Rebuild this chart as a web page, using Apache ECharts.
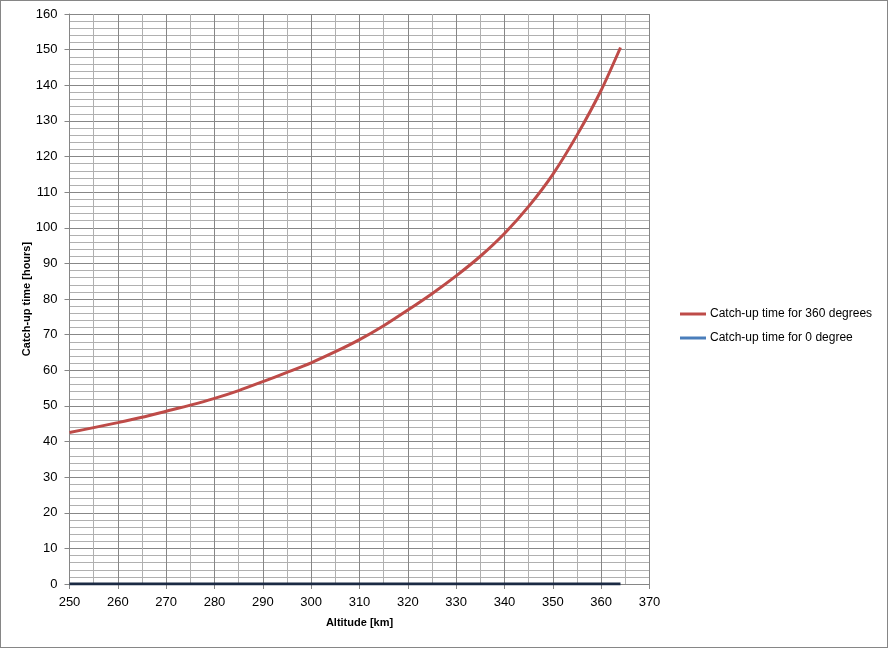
<!DOCTYPE html>
<html>
<head>
<meta charset="utf-8">
<script src="https://cdn.jsdelivr.net/npm/echarts@6/dist/echarts.min.js"></script>
<style>
html,body{margin:0;padding:0;background:#fff;}
#wrap{width:888px;height:648px;box-sizing:border-box;border:1px solid #868686;position:relative;}
#chart{position:absolute;left:-1px;top:-1px;width:888px;height:648px;}
</style>
</head>
<body>
<div id="wrap"><div id="chart"></div></div>
<script>
// Data
const altitudes = [250, 255, 260, 265, 270, 275, 280, 285, 290, 295, 300, 305, 310, 315, 320, 325, 330, 335, 340, 345, 350, 355, 360, 364];
const catchUp360 = [42.5, 43.9, 45.3, 46.8, 48.5, 50.2, 52.1, 54.3, 56.8, 59.4, 62.1, 65.2, 68.6, 72.5, 76.9, 81.5, 86.5, 92.0, 98.4, 106.0, 115.0, 126.0, 138.6, 150.6];
const catchUp0 = [0, 0, 0, 0, 0, 0, 0, 0, 0, 0, 0, 0, 0, 0, 0, 0, 0, 0, 0, 0, 0, 0, 0, 0];
const seriesNames = ['Catch-up time for 360 degrees', 'Catch-up time for 0 degree'];
const xTitle = 'Altitude [km]';
const yTitle = 'Catch-up time [hours]';

const FONT = 'Liberation Sans';
const chart = echarts.init(document.getElementById('chart'), null, {renderer: 'canvas'});
const pairs = (xs, ys) => xs.map((x, i) => [x, ys[i]]);

chart.setOption({
  animation: false,
  backgroundColor: 'transparent',
  textStyle: {fontFamily: FONT},
  grid: {left: 69.5, top: 14, right: 238.5, bottom: 64, containLabel: false},
  legend: {
    orient: 'vertical',
    left: 675, top: 303,
    itemWidth: 26, itemHeight: 3, itemGap: 12,
    icon: 'rect',
    textStyle: {fontFamily: FONT, fontSize: 12, color: '#000', padding: [0, 0, 0, -1]},
    data: [
      {name: seriesNames[0], itemStyle: {color: '#BE4B48'}},
      {name: seriesNames[1], itemStyle: {color: '#4A7EBB'}}
    ]
  },
  xAxis: {
    type: 'value', min: 250, max: 370, interval: 10,
    name: xTitle, nameLocation: 'middle', nameGap: 33,
    nameTextStyle: {fontFamily: FONT, fontSize: 11, fontWeight: 'bold', color: '#000'},
    axisLine: {show: true, onZero: false, lineStyle: {color: '#868686', width: 1}},
    axisTick: {show: true, length: 5, inside: false, lineStyle: {color: '#868686'}},
    axisLabel: {fontFamily: FONT, fontSize: 13, color: '#000', margin: 12},
    splitLine: {show: true, lineStyle: {color: '#878787', width: 1}},
    minorSplitLine: {show: true, lineStyle: {color: '#b0b0b0', width: 1}},
    minorTick: {show: false, splitNumber: 2}
  },
  yAxis: {
    type: 'value', min: 0, max: 160, interval: 10,
    name: yTitle, nameLocation: 'middle', nameGap: 37, nameRotate: 90,
    nameMoveOverlap: false,
    nameTextStyle: {fontFamily: FONT, fontSize: 11, fontWeight: 'bold', color: '#000'},
    axisLine: {show: true, lineStyle: {color: '#868686', width: 1}},
    axisTick: {show: true, length: 5, inside: false, lineStyle: {color: '#868686'}},
    axisLabel: {fontFamily: FONT, fontSize: 13, color: '#000', margin: 12},
    splitLine: {show: true, lineStyle: {color: '#878787', width: 1}},
    minorSplitLine: {show: true, lineStyle: {color: '#b0b0b0', width: 1}},
    minorTick: {show: false, splitNumber: 5}
  },
  series: [
    {
      name: seriesNames[0], type: 'line', data: pairs(altitudes, catchUp360),
      smooth: 0.25, showSymbol: false, symbol: 'none',
      itemStyle: {color: '#BE4B48'},
      lineStyle: {color: '#BE4B48', width: 3}, z: 3
    },
    {
      name: seriesNames[1], type: 'line', data: pairs(altitudes, catchUp0),
      showSymbol: false, symbol: 'none',
      itemStyle: {color: '#4A7EBB'},
      lineStyle: {color: '#1b2a44', width: 3}, z: 4
    }
  ]
});
</script>
</body>
</html>
